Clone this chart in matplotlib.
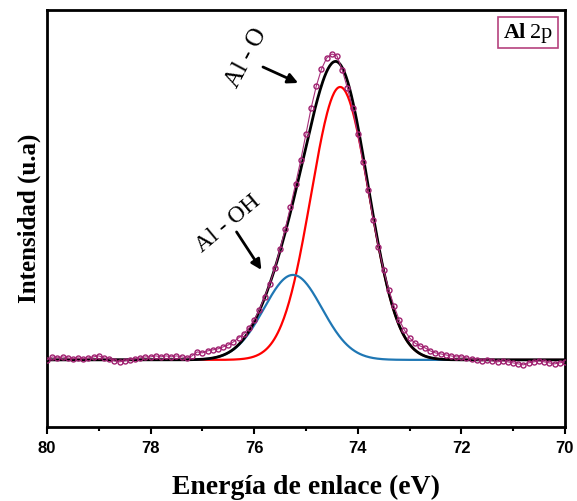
import numpy as np
import matplotlib
matplotlib.use("Agg")
import matplotlib.pyplot as plt
from matplotlib.ticker import MultipleLocator
from matplotlib.offsetbox import AnchoredOffsetbox, TextArea, HPacker

# Measured Al 2p spectrum (binding energy in eV, intensity in arbitrary units)
energy = np.round(np.arange(80.0, 69.95, -0.1), 1)
intensity = [
    0, 3, 2, 3, 2, 1, 2, 1, 2, 3,
    4, 2, 1, -1, -2, -1, 0, 1, 2, 3,
    3, 4, 3, 4, 3, 4, 3, 2, 4, 8,
    7, 9, 10, 11, 13, 15, 18, 22, 26, 32,
    40, 50, 63, 76, 92, 111, 131, 153, 176, 200,
    226, 252, 274, 291, 302, 306, 304, 290, 272, 252,
    226, 198, 170, 140, 113, 90, 70, 54, 40, 30,
    22, 17, 14, 12, 9, 7, 6, 5, 4, 3,
    3, 2, 1, 0, -1, 0, -1, -2, -1, -2,
    -3, -4, -5, -3, -2, -1, -2, -3, -4, -3,
    -2,
]

# Fitted components: centre (eV), height, sigma (eV)
peak_names = ["Al - O", "Al - OH"]
peak_centers = [74.34, 75.25]
peak_heights = [273, 85]
peak_sigmas = [0.56, 0.56]
peak_colors = ["#ff0000", "#1f77b4"]

x_fit = np.linspace(80, 70, 600)
components = [h * np.exp(-(x_fit - c) ** 2 / (2 * s ** 2))
              for c, h, s in zip(peak_centers, peak_heights, peak_sigmas)]
envelope = np.sum(components, axis=0)

fig = plt.figure(figsize=(5.77, 5.01), dpi=100)
ax = fig.add_axes([0.0815, 0.148, 0.8975, 0.832])

for comp, col in zip(components, peak_colors):
    ax.plot(x_fit, comp, color=col, lw=1.6, zorder=2)
ax.plot(x_fit, envelope, color="black", lw=2.0, zorder=3)
ax.plot(energy, intensity, color="#a8307a", lw=0.8, marker="o", ms=3.6,
        mfc="none", mec="#a02070", mew=1.0, zorder=4)

ax.set_xlim(80, 70)
ax.set_ylim(-67, 350)
ax.xaxis.set_major_locator(MultipleLocator(2))
ax.xaxis.set_minor_locator(MultipleLocator(1))
ax.tick_params(axis="x", which="major", direction="out", length=5, width=1.5,
               top=False, labelsize=12, pad=5)
ax.tick_params(axis="x", which="minor", direction="out", length=3, width=1.5,
               top=False)
ax.tick_params(axis="y", left=False, labelleft=False)
for lab in ax.get_xticklabels():
    lab.set_fontfamily("Liberation Sans")
    lab.set_fontweight("bold")
for sp in ax.spines.values():
    sp.set_linewidth(2.0)

ax.set_xlabel("Energía de enlace (eV)", fontfamily="Liberation Serif",
              fontweight="bold", fontsize=20, labelpad=14)
ax.set_ylabel("Intensidad (u.a)", fontfamily="Liberation Serif",
              fontweight="bold", fontsize=18, labelpad=4)

# Peak labels with arrows
ax.annotate("", xy=(75.15, 277), xytext=(75.83, 293),
            arrowprops=dict(arrowstyle="-|>", color="black", lw=2,
                            mutation_scale=15, shrinkA=0, shrinkB=0))
ax.text(76.14, 302, peak_names[0], rotation=62, fontsize=18,
        fontfamily="Liberation Serif", ha="center", va="center",
        rotation_mode="anchor")
ax.annotate("", xy=(75.86, 90), xytext=(76.34, 128),
            arrowprops=dict(arrowstyle="-|>", color="black", lw=2,
                            mutation_scale=15, shrinkA=0, shrinkB=0))
ax.text(76.5, 136, peak_names[1], rotation=40, fontsize=17,
        fontfamily="Liberation Serif", ha="center", va="center",
        rotation_mode="anchor")

# Region tag in the corner
tag = HPacker(children=[
    TextArea("Al", textprops=dict(fontfamily="Liberation Serif",
                                  fontweight="bold", fontsize=16)),
    TextArea("2p", textprops=dict(fontfamily="Liberation Serif",
                                  fontsize=16)),
], align="baseline", pad=0, sep=3)
box = AnchoredOffsetbox(loc="upper right", child=tag, pad=0.4,
                        borderpad=0.5, frameon=True)
box.patch.set_edgecolor("#b5427e")
box.patch.set_linewidth(1.2)
box.patch.set_boxstyle("square", pad=0)
ax.add_artist(box)

fig.savefig("out.png", dpi=100)
